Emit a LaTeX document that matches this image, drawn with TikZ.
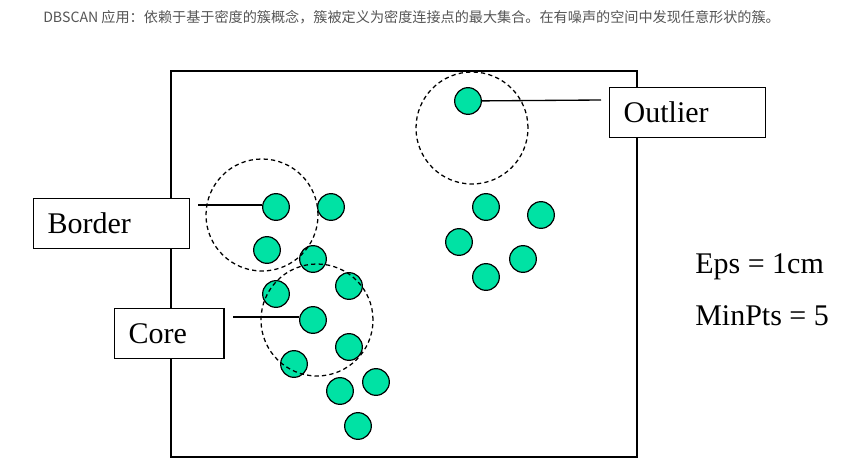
\documentclass[tikz,border=0pt]{standalone}
\usepackage{fontspec}
\setmainfont{Liberation Serif}
\newfontfamily\cjk{Noto Sans CJK SC}
\usepackage{tikz}
\usetikzlibrary{positioning}
\definecolor{dotgreen}{RGB}{0,226,164}
\definecolor{capgray}{RGB}{85,85,85}

\begin{document}
\begin{tikzpicture}[
  x=0.75pt, y=-0.75pt,
  font=\fontsize{22.5}{27}\selectfont,
  pt/.style={draw, circle, line width=0.9pt, fill=dotgreen, inner sep=0pt, minimum size=20pt},
  eps/.style={draw, circle, dash pattern=on 3.2pt off 2.4pt, line width=0.95pt, inner sep=0pt, minimum size=84pt},
  lbl/.style={draw, line width=1pt, anchor=north west, align=left, inner xsep=10.5pt,
    inner ysep=0pt, minimum height=37.5pt, fill=white},
  lead/.style={line width=1pt}
]
\useasboundingbox (0,0) rectangle (851,470);
\node[anchor=west, inner sep=0pt, text=capgray, font=\cjk\fontsize{10.6}{12}\selectfont] (title) at (43,17)
  {DBSCAN 应用：依赖于基于密度的簇概念，簇被定义为密度连接点的最大集合。在有噪声的空间中发现任意形状的簇。};

\draw[line width=1pt] (171,71) rectangle (637,457);

% left cluster
\node[pt] (pt01) at (276,207) {};
\node[pt] (pt02) at (331,207) {};
\node[pt] (pt03) at (267,250) {};
\node[pt] (pt04) at (313,259) {};
\node[pt] (pt05) at (349,286) {};
\node[pt] (pt06) at (276,294) {};
\node[pt] (pt07) at (313,320) {};
\node[pt] (pt08) at (349,347) {};
\node[pt] (pt09) at (294,364) {};
\node[pt] (pt10) at (376,382) {};
\node[pt] (pt11) at (340,391) {};
\node[pt] (pt12) at (358,426) {};
% right cluster
\node[pt] (pt13) at (486,207) {};
\node[pt] (pt14) at (541,215) {};
\node[pt] (pt15) at (459,242) {};
\node[pt] (pt16) at (523,259) {};
\node[pt] (pt17) at (486,277) {};
% outlier
\node[pt] (pt18) at (468,101) {};

% neighbourhoods
\node[eps] (nbout) at (472,128) {};
\node[eps] (nbborder) at (262,215) {};
\node[eps] (nbcore) at (317,320) {};

% labels
\node[lbl, text width=96pt] (outlier) at (609,87) {Outlier};
\node[lbl, text width=96pt] (border) at (33,198) {Border};
\node[lbl, text width=61pt] (core) at (114,308) {Core};

\coordinate (outend) at (601,100);
\coordinate (borderend) at (198,205);
\coordinate (coreend) at (233,317);
\draw[lead] (pt18) -- (outend);
\draw[lead] (borderend) -- (pt01.west |- borderend);
\draw[lead] (coreend) -- (pt07.west |- coreend);

\node[anchor=base west, inner sep=0pt] (epstxt) at (695,274) {Eps = 1cm};
\node[anchor=base west, inner sep=0pt] (minpts) at (695,326) {MinPts = 5};
\end{tikzpicture}
\end{document}
